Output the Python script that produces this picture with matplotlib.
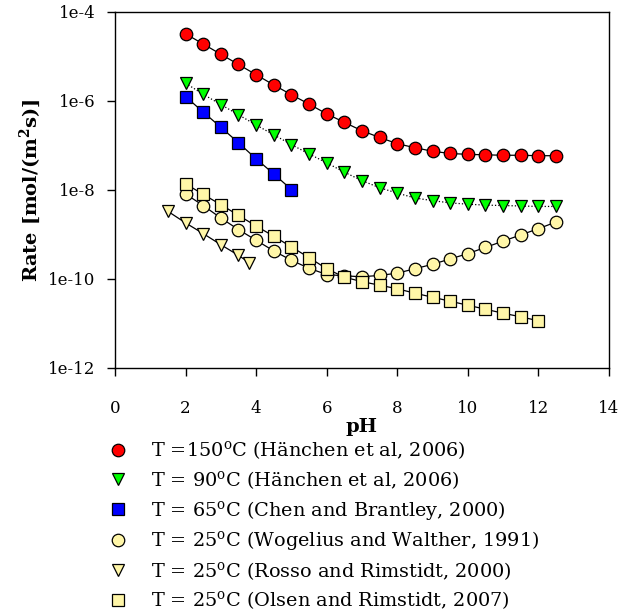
import numpy as np
import matplotlib
matplotlib.use("Agg")
import matplotlib.pyplot as plt
from matplotlib.lines import Line2D
from matplotlib.ticker import FixedLocator, FuncFormatter

plt.rcParams['font.family'] = 'DejaVu Serif'
plt.rcParams['mathtext.fontset'] = 'dejavuserif'

# log10 of rate
ph_150 = np.arange(2, 12.51, 0.5)
lr_150 = [-4.49, -4.72, -4.95, -5.18, -5.41, -5.64, -5.86, -6.07, -6.29, -6.48, -6.67,
          -6.82, -6.96, -7.05, -7.13, -7.18, -7.20, -7.21, -7.22, -7.22, -7.23, -7.23]

ph_90 = np.arange(2, 12.51, 0.5)
lr_90 = [-5.60, -5.85, -6.08, -6.31, -6.54, -6.76, -6.98, -7.19, -7.39, -7.60, -7.79,
         -7.95, -8.07, -8.18, -8.24, -8.29, -8.32, -8.34, -8.35, -8.36, -8.37, -8.37]

ph_65 = np.arange(2, 5.01, 0.5)
lr_65 = [-5.90, -6.25, -6.59, -6.94, -7.30, -7.64, -7.99]

ph_wog = np.arange(2, 12.51, 0.5)
lr_wog = [-8.09, -8.35, -8.63, -8.89, -9.13, -9.37, -9.58, -9.76, -9.90, -9.93, -9.95,
          -9.92, -9.87, -9.77, -9.67, -9.55, -9.43, -9.29, -9.15, -9.01, -8.87, -8.72]

ph_ros = [1.5, 2.0, 2.5, 3.0, 3.5, 3.8]
lr_ros = [-8.48, -8.74, -8.98, -9.23, -9.47, -9.63]

ph_ols = np.arange(2, 12.01, 0.5)
lr_ols = [-7.86, -8.10, -8.33, -8.57, -8.81, -9.04, -9.28, -9.52, -9.77, -9.96, -10.06,
          -10.14, -10.22, -10.32, -10.41, -10.50, -10.59, -10.68, -10.77, -10.85, -10.94]

labels = ["T =150$^\\mathrm{o}$C (Hänchen et al, 2006)",
          "T = 90$^\\mathrm{o}$C (Hänchen et al, 2006)",
          "T = 65$^\\mathrm{o}$C (Chen and Brantley, 2000)",
          "T = 25$^\\mathrm{o}$C (Wogelius and Walther, 1991)",
          "T = 25$^\\mathrm{o}$C (Rosso and Rimstidt, 2000)",
          "T = 25$^\\mathrm{o}$C (Olsen and Rimstidt, 2007)"]

yel = '#FFF6A8'
series = [
    (ph_150, lr_150, 'o', 'red', '-', 9),
    (ph_90, lr_90, 'v', '#00FF00', ':', 9),
    (ph_65, lr_65, 's', 'blue', '-', 8.5),
    (ph_wog, lr_wog, 'o', yel, '-', 9),
    (ph_ros, lr_ros, 'v', yel, '-', 9),
    (ph_ols, lr_ols, 's', yel, '-', 8.5),
]

fig = plt.figure(figsize=(6.36, 6.14), dpi=100)
ax = fig.add_axes([0.1808, 0.4007, 0.7767, 0.5798])

handles = []
for x, lr, m, c, ls, ms in series:
    y = 10.0 ** np.array(lr)
    ax.plot(x, y, color='black', lw=0.9, ls=ls, marker=m, ms=ms,
            mfc=c, mec='black', mew=0.9)
    handles.append(Line2D([], [], ls='none', marker=m, ms=ms, mfc=c,
                          mec='black', mew=0.9))

ax.set_yscale('log')
ax.set_ylim(1e-12, 1e-4)
ax.set_xlim(0, 14)
ax.yaxis.set_major_locator(FixedLocator([1e-12, 1e-10, 1e-8, 1e-6, 1e-4]))
ax.yaxis.set_minor_locator(FixedLocator([]))
ax.yaxis.set_major_formatter(FuncFormatter(lambda v, p: "1e-%d" % round(-np.log10(v))))
ax.set_xticks(np.arange(0, 15, 2))
ax.tick_params(direction='out', length=6, width=1, labelsize=12, pad=8)
ax.tick_params(axis='x', pad=17)
for s in ax.spines.values():
    s.set_linewidth(1)

ax.set_xlabel('pH', fontsize=14, fontweight='bold', labelpad=1)
ax.set_ylabel('Rate [mol/(m$^\\mathbf{2}$s)]', fontsize=14, fontweight='bold', labelpad=4)

fig.legend(handles, labels, loc='upper left', bbox_to_anchor=(0.155, 0.300),
           frameon=False, fontsize=13.9, handlelength=1.0, handletextpad=1.2,
           labelspacing=0.40, borderpad=0)

fig.savefig('out.png', dpi=100)
